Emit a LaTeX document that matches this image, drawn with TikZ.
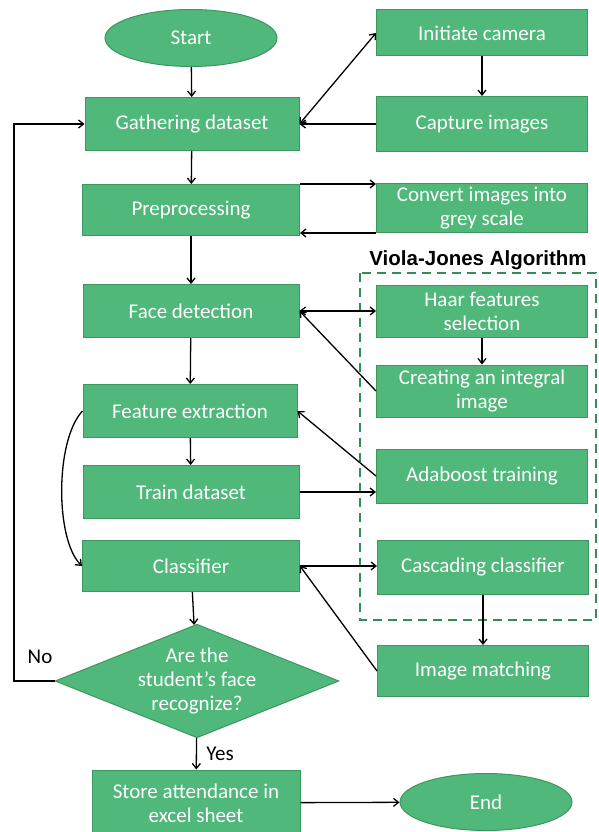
\documentclass[tikz,border=0pt]{standalone}
\usepackage{fontspec}
\setmainfont{Carlito}
\newfontfamily\arialfont{Liberation Sans}
\usepackage{tikz}
\usetikzlibrary{shapes.geometric,arrows.meta}
\definecolor{boxgreen}{RGB}{80,184,122}
\definecolor{boxline}{RGB}{60,150,96}
\definecolor{dashgreen}{RGB}{52,140,86}

\begin{document}
\begin{tikzpicture}[x=1pt,y=-1pt,line width=1.3pt,
  >={Straight Barb[length=5pt,width=8pt]},
  box/.style={rectangle,draw=boxline,line width=1pt,fill=boxgreen,text=white,align=center,
    minimum width=214,minimum height=53,inner sep=1pt,font=\fontsize{21}{24}\selectfont},
  oval/.style={ellipse,draw=boxline,line width=1pt,fill=boxgreen,text=white,
    minimum width=172,minimum height=57,inner sep=0pt,font=\fontsize{21}{24}\selectfont},
  decide/.style={diamond,draw=boxline,line width=1pt,fill=boxgreen,text=white,align=center,
    aspect=2.5,minimum width=282,minimum height=111,inner sep=0pt,font=\fontsize{21}{24}\selectfont}]
\useasboundingbox (0,0) rectangle (598,832);
% Viola-Jones frame
\draw[dashgreen,line width=2pt,dash pattern=on 9pt off 6pt] (360,273) rectangle (596,620);
\node[font=\arialfont\bfseries\fontsize{20.5}{24}\selectfont] (vj) at (478,260) {Viola-Jones Algorithm};
% main column
\node[oval] (start) at (191,38) {Start} ;
\node[box] (gather) at (192,124) {Gathering dataset} ;
\node[box,minimum width=217,minimum height=51] (prep) at (191,210) {Preprocessing} ;
\node[box,minimum width=216] (face) at (191,311) {Face detection} ;
\node[box,minimum width=214] (feat) at (190,411) {Feature extraction} ;
\node[box,minimum width=216] (train) at (191,492) {Train dataset} ;
\node[box,minimum width=217,minimum height=51] (class) at (191,566) {Classifier} ;
\node[decide] (recog) at (197,681) {Are the\\student's face\\recognize?} ;
\node[box,minimum width=208,minimum height=66] (store) at (196,803) {Store attendance in\\excel sheet} ;
% right column
\node[box,minimum width=211,minimum height=46] (cam) at (482,33) {Initiate camera} ;
\node[box,minimum width=211,minimum height=55] (capture) at (482,124) {Capture images} ;
\node[box,minimum width=211,minimum height=49] (grey) at (482,208) {Convert images into\\grey scale} ;
\node[box,minimum width=211,minimum height=52] (haar) at (482,311) {Haar features\\selection} ;
\node[box,minimum width=211,minimum height=52] (integral) at (482,391) {Creating an integral\\image} ;
\node[box,minimum width=211,minimum height=54] (ada) at (482,476) {Adaboost training} ;
\node[box,minimum width=211,minimum height=54] (cascade) at (483,567) {Cascading classifier} ;
\node[box,minimum width=211,minimum height=51] (match) at (483,671) {Image matching} ;
\node[oval] (end) at (486,802) {End} ;
\node[font=\fontsize{21}{24}\selectfont] (no) at (40,657) {No} ;
\coordinate (nocorner) at (14,681) ;
% connectors
\draw[->] (start) -- (gather) ;
\draw[->] (gather) -- (prep) ;
\draw[->] (prep) -- (face) ;
\draw[->] (face) -- (feat) ;
\draw[->] (feat) -- (train) ;
\draw[->] (class) -- (recog) ;
\draw[->] (recog) -- node[right=6pt,font=\fontsize{21}{24}\selectfont] (yes) {Yes} (store) ;
\draw[->] (store) -- (end) ;
\draw[<->] (gather.east) -- (cam.west) ;
\draw[->] (cam) -- (capture) ;
\draw[->] (capture) -- (gather) ;
\draw[->] (prep.north east) -- (prep.north east -| grey.west) ;
\draw[->] (grey.south west) -- (grey.south west -| prep.east) ;
\draw[<->] (face) -- (haar) ;
\draw[->] (haar) -- (integral) ;
\draw[->] (integral.west) -- (face.east) ;
\draw[->] (ada.west) -- (feat.east) ;
\draw[->] (train.east) -- (train.east -| ada.west) ;
\draw[->] (class.east) -- (class.east -| cascade.west) ;
\draw[->] (match.west) -- (class.east) ;
\draw[->] (cascade) -- (match) ;
\draw[->] (feat.west) .. controls (55,440) and (55,540) .. (class.west) ;
\draw[->] (recog.west) -- (nocorner) |- (gather.west) ;
\end{tikzpicture}
\end{document}
